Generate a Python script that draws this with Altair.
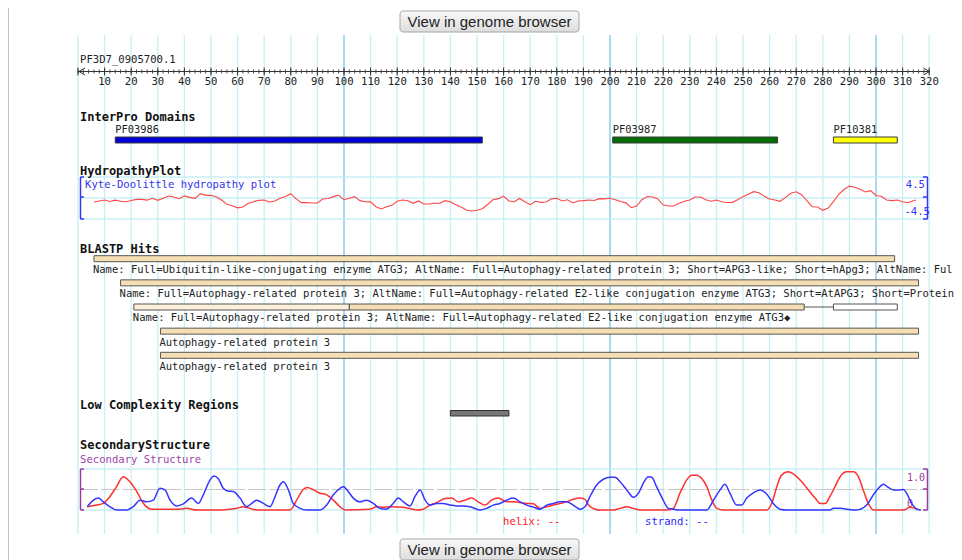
import altair as alt
import pandas as pd

# ---------------- data ----------------
seq_id = "PF3D7_0905700.1"
ruler_minor = list(range(0, 321, 2))
ruler_major = list(range(0, 321, 10))
ruler_labels = list(range(10, 321, 10))
grid_pos = list(range(0, 321, 10))

domain_ids = ["PF03986", "PF03987", "PF10381"]
domain_start = [14, 201, 284]
domain_end = [152, 263, 308]
domain_fill = ["#0000d8", "#006e00", "#ffff00"]

hydro_pos = list(range(6, 315, 2)) + [315]
hydro_val = [
    -0.86, -0.64, -0.43, -0.75, -0.46, -0.71, -0.79, -0.54, -0.29, -0.29,
    -0.46, -0.07, -0.50, -0.07, 0.43, 0.21, -0.14, 0.46, 0.14, -0.07,
    0.93, 0.57, 0.57, 0.21, -0.43, -1.36, -1.68, -2.11, -1.93, -1.14,
    -0.79, -0.50, -0.43, -0.86, -0.64, -0.07, 0.32, 0.93, -0.18, -1.00,
    -1.00, -1.07, -1.07, -0.21, -0.11, 0.29, 0.64, -0.36, -0.04, 0.29,
    -0.57, -0.79, -0.82, -1.86, -2.36, -1.86, -1.57, -0.71, -0.43, -0.57,
    -1.14, -0.64, -1.29, -1.29, -1.14, -1.14, -0.57, -0.79, -1.43, -1.93,
    -2.57, -2.79, -2.61, -2.29, -1.39, -0.39, -0.14, 0.40, -0.64, -0.79,
    -0.11, -0.79, -1.43, -0.71, -0.93, -0.86, -0.18, -0.07, -0.64, -0.39,
    -1.07, -0.64, -0.57, -0.43, -0.54, -0.14, -0.18, -0.07, -0.36, -0.75,
    -1.04, -2.07, -1.71, -0.36, 0.32, 0.21, -0.21, -1.50, -1.71, -1.71,
    -1.14, -0.68, -0.43, 0.21, 0.21, -0.36, -0.68, -0.43, -0.79, -0.96,
    -0.93, -0.36, 0.29, 0.82, 1.36, 1.11, 0.36, -0.21, -0.43, -0.71,
    0.14, 1.00, 1.32, 0.71, -0.54, -1.86, -1.93, -2.64, -2.14, -0.79,
    0.79, 1.82, 2.54, 2.29, 1.86, 1.29, 1.57, 0.54, 0.36, -0.43,
    -0.57, -0.43, -0.79, -1.00, -0.57, -0.43,
]

blast_labels = [
    "Name: Full=Ubiquitin-like-conjugating enzyme ATG3; AltName: Full=Autophagy-related protein 3; Short=APG3-like; Short=hApg3; AltName: Ful",
    "Name: Full=Autophagy-related protein 3; AltName: Full=Autophagy-related E2-like conjugation enzyme ATG3; Short=AtAPG3; Short=Protein",
    "Name: Full=Autophagy-related protein 3; AltName: Full=Autophagy-related E2-like conjugation enzyme ATG3\u25c6",
    "Autophagy-related protein 3",
    "Autophagy-related protein 3",
]
blast_start = [6, 16, 21, 31, 31]
seg_row = [0, 1, 2, 2, 2, 3, 4]
seg_start = [6, 16, 21, 102, 284, 31, 31]
seg_end = [307, 316, 102, 273, 308, 316, 316]
seg_kind = ["hit", "hit", "weak", "hit", "miss", "hit", "hit"]
gap_row = [2]
gap_start = [273]
gap_end = [284]

lc_start = [140]
lc_end = [162]

helix_pos = [3.5, 7.0, 9.5, 12.0, 14.5, 17.0, 19.5, 22.1, 24.6, 27.7, 38.3, 40.8, 44.6, 53.4,
             59.6, 62.2, 67.2, 79.7, 82.2, 84.7, 86.2, 88.5, 91.0, 93.5, 96.0, 98.5, 100.4,
             109.8, 112.3, 114.8, 117.3, 122.3, 127.3, 129.8, 132.3, 134.8, 138.0, 140.5,
             143.0, 145.5, 148.0, 150.5, 153.0, 155.5, 158.0, 161.2, 163.7, 166.2, 168.7,
             171.2, 173.7, 176.2, 178.7, 181.2, 183.7, 186.2, 188.7, 190.6, 191.9, 194.4,
             196.2, 201.3, 203.8, 206.3, 208.8, 211.3, 221.3, 223.8, 226.3, 228.8, 230.7,
             232.6, 234.5, 236.4, 238.3, 240.2, 242.7, 258.9, 260.8, 262.7, 264.5, 267.0,
             269.5, 272.1, 274.6, 277.1, 279.0, 280.9, 282.7, 284.6, 286.5, 289.0, 291.5,
             293.4, 295.2, 297.1, 299.0, 310.3, 312.8, 314.6, 316.8]
helix_val = [0.08, 0.12, 0.16, 0.33, 0.57, 0.81, 0.69, 0.45, 0.16, 0.02, 0.02, 0.04, 0.0, 0.0,
             0.04, 0.08, 0.0, 0.0, 0.24, 0.50, 0.55, 0.49, 0.41, 0.37, 0.24, 0.08, 0.0,
             0.02, 0.08, 0.07, 0.08, 0.07, 0.0, 0.02, 0.12, 0.18, 0.28, 0.29,
             0.20, 0.24, 0.29, 0.20, 0.12, 0.24, 0.29, 0.20, 0.20, 0.18, 0.16,
             0.15, 0.04, 0.08, 0.12, 0.16, 0.20, 0.26, 0.29, 0.26, 0.12, 0.02,
             0.0, 0.0, 0.04, 0.08, 0.04, 0.0, 0.0, 0.04, 0.41, 0.73, 0.85,
             0.85, 0.77, 0.57, 0.24, 0.04, 0.0, 0.0, 0.16, 0.57, 0.85, 0.93,
             0.85, 0.69, 0.49, 0.29, 0.16, 0.16, 0.33, 0.57, 0.81, 0.93, 0.93,
             0.81, 0.49, 0.16, 0.0, 0.0, 0.07, 0.04, 0.0]

strand_pos = [3.5, 5.8, 7.6, 9.5, 12.0, 14.5, 18.3, 20.8, 23.3, 25.8, 28.3, 30.8, 32.7, 34.6,
              37.1, 39.6, 42.7, 45.2, 47.1, 49.6, 51.1, 52.7, 54.6, 56.5, 58.4, 60.9, 63.4,
              65.3, 67.2, 69.7, 72.2, 74.1, 75.9, 77.2, 79.1, 80.9, 83.5, 86.0, 91.0, 93.5,
              96.0, 98.5, 99.8, 101.6, 103.5, 106.0, 108.5, 111.0, 113.5, 116.0, 118.5, 120.4,
              122.3, 124.8, 126.7, 128.6, 130.5, 132.3, 134.8, 137.3, 139.8, 142.3, 144.9,
              147.4, 151.1, 153.6, 156.1, 158.6, 161.2, 163.7, 166.2, 168.7, 171.2, 173.7,
              176.2, 178.7, 181.2, 183.7, 186.2, 188.7, 190.6, 192.5, 195.0, 197.5, 200.0,
              201.9, 203.8, 206.3, 208.8, 210.7, 212.5, 214.4, 215.7, 217.5, 220.0, 221.9,
              223.8, 226.3, 236.4, 238.9, 241.4, 243.2, 245.1, 247.6, 249.5, 251.4, 253.9,
              256.4, 258.9, 261.4, 263.9, 266.4, 282.7, 284.0, 286.5, 289.0, 292.7, 296.5,
              299.0, 301.5, 302.8, 304.6, 306.5, 308.4, 310.3, 311.5, 313.4, 315.3, 316.8]
strand_val = [0.08, 0.24, 0.29, 0.20, 0.08, 0.0, 0.0, 0.08, 0.24, 0.20, 0.24, 0.53, 0.49, 0.24,
              0.10, 0.15, 0.29, 0.16, 0.37, 0.73, 0.83, 0.77, 0.53, 0.46, 0.45, 0.29, 0.08,
              0.16, 0.24, 0.16, 0.08, 0.33, 0.61, 0.69, 0.49, 0.16, 0.04, 0.0, 0.0, 0.12,
              0.37, 0.53, 0.57, 0.45, 0.29, 0.20, 0.24, 0.16, 0.04, 0.02, 0.16, 0.29,
              0.20, 0.10, 0.33, 0.49, 0.24, 0.12, 0.16, 0.16, 0.12, 0.10, 0.10,
              0.08, 0.0, 0.04, 0.12, 0.16, 0.24, 0.29, 0.20, 0.12, 0.07, 0.02,
              0.12, 0.16, 0.20, 0.20, 0.12, 0.02, 0.08, 0.33, 0.61, 0.75, 0.80,
              0.80, 0.69, 0.49, 0.31, 0.41, 0.65, 0.81, 0.80, 0.57, 0.24, 0.04,
              0.02, 0.0, 0.0, 0.24, 0.49, 0.63, 0.41, 0.12, 0.12, 0.29, 0.42,
              0.49, 0.39, 0.16, 0.02, 0.0, 0.0, 0.04, 0.04, 0.02, 0.0, 0.12,
              0.37, 0.57, 0.63, 0.55, 0.49, 0.49, 0.50, 0.41, 0.16, 0.02, 0.0]

# ---------------- layout (page pixels) ----------------
OFF = 8
W, H = 946, 552
MONO = "DejaVu Sans Mono"
XS = alt.Scale(domain=[0, 320], range=[78 - OFF, 929.2 - OFF], nice=False, zero=False)
HS = alt.Scale(domain=[-4.5, 4.5], range=[219 - OFF, 177 - OFF], nice=False, zero=False)
SS = alt.Scale(domain=[0, 1], range=[510 - OFF, 469 - OFF], nice=False, zero=False)
ONE = pd.DataFrame({"k": [0]})


def X(f):
    return alt.X(f, type="quantitative", scale=XS, axis=None)


def seg(x, x2, y, y2, color, w=1.0):
    return alt.Chart(ONE).mark_rule(color=color, strokeWidth=w).encode(
        x=alt.value(x - OFF), x2=alt.value(x2 - OFF),
        y=alt.value(y - OFF), y2=alt.value(y2 - OFF))


def txt(s, x, y, size=10.6, color="#222", weight="normal", align="left", font=MONO):
    return alt.Chart(ONE).mark_text(
        text=s, align=align, baseline="middle", font=font, fontSize=size,
        fontWeight=weight, color=color).encode(x=alt.value(x - OFF), y=alt.value(y - OFF))


layers = []

# page frame (left edge)
layers.append(seg(8.5, 8.5, 0, 560, "#c4c4c4", 1))

# vertical grid
gdf = pd.DataFrame({"pos": grid_pos})
layers.append(alt.Chart(gdf).mark_rule(color="#c9eff5", strokeWidth=1.3).encode(
    x=X("pos"), y=alt.value(35 - OFF), y2=alt.value(534 - OFF)
).transform_filter("datum.pos % 100 != 0 || datum.pos == 0"))
layers.append(alt.Chart(gdf).mark_rule(color="#a9d9ee", strokeWidth=2).encode(
    x=X("pos"), y=alt.value(35 - OFF), y2=alt.value(534 - OFF)
).transform_filter("datum.pos % 100 == 0 && datum.pos > 0"))

# horizontal track lines
layers.append(alt.Chart(pd.DataFrame({"v": [-4.5, 0, 4.5]})).mark_rule(color="#c9eff5", strokeWidth=1.3).encode(
    y=alt.Y("v:Q", scale=HS, axis=None), x=alt.value(80 - OFF), x2=alt.value(928 - OFF)))
layers.append(alt.Chart(pd.DataFrame({"v": [0, 1]})).mark_rule(color="#c9eff5", strokeWidth=1.3).encode(
    y=alt.Y("v:Q", scale=SS, axis=None), x=alt.value(80 - OFF), x2=alt.value(928 - OFF)))
layers.append(alt.Chart(pd.DataFrame({"v": [0.5]})).mark_rule(color="#c8c8c8", strokeWidth=1.2, strokeDash=[18, 3]).encode(
    y=alt.Y("v:Q", scale=SS, axis=None), x=alt.value(80 - OFF), x2=alt.value(928 - OFF)))

# buttons
grad = alt.LinearGradient(gradient="linear", stops=[
    alt.GradientStop(color="#f8f8f8", offset=0), alt.GradientStop(color="#dddddd", offset=1)],
    x1=0, x2=0, y1=0, y2=1)
for top in (11, 539):
    layers.append(alt.Chart(ONE).mark_rect(fill=grad, stroke="#a6a6a6", strokeWidth=1, cornerRadius=3).encode(
        x=alt.value(400 - OFF), x2=alt.value(579 - OFF), y=alt.value(top - OFF), y2=alt.value(top + 21 - OFF)))
    layers.append(txt("View in genome browser", 489.5, top + 11, size=15, color="#222",
                      align="center", font="Liberation Sans"))

# ruler
layers.append(txt(seq_id, 80, 59.5))
layers.append(alt.Chart(pd.DataFrame({"s": [0], "e": [320]})).mark_rule(color="#333", strokeWidth=1).encode(
    x=X("s"), x2="e", y=alt.value(71.5 - OFF)))
layers.append(alt.Chart(pd.DataFrame({"pos": ruler_minor})).mark_rule(color="#444", strokeWidth=1).encode(
    x=X("pos"), y=alt.value(69.5 - OFF), y2=alt.value(73.5 - OFF)))
layers.append(alt.Chart(pd.DataFrame({"pos": ruler_major})).mark_rule(color="#333", strokeWidth=1).encode(
    x=X("pos"), y=alt.value(67.5 - OFF), y2=alt.value(75.5 - OFF)))
layers.append(alt.Chart(pd.DataFrame({"pos": ruler_labels})).mark_text(
    font=MONO, fontSize=10.6, color="#222", baseline="middle", align="center").encode(
    x=X("pos"), y=alt.value(82 - OFF), text="pos:Q"))
layers += [seg(79, 85, 71.5, 68, "#333"), seg(79, 85, 71.5, 75, "#333"),
           seg(929.5, 923.5, 71.5, 68, "#333"), seg(929.5, 923.5, 71.5, 75, "#333")]

# track headers
for name, y in [("InterPro Domains", 117), ("HydropathyPlot", 171), ("BLASTP Hits", 248.5),
                ("Low Complexity Regions", 404.5), ("SecondaryStructure", 445)]:
    layers.append(txt(name, 80, y, size=12, color="#111", weight="bold"))

# InterPro domains
ddf = pd.DataFrame({"id": domain_ids, "start": domain_start, "end": domain_end, "fill": domain_fill})
layers.append(alt.Chart(ddf).mark_rect(stroke="#3a3a3a", strokeWidth=1).encode(
    x=X("start"), x2="end", y=alt.value(137 - OFF), y2=alt.value(143 - OFF),
    fill=alt.Fill("fill:N", scale=None)))
layers.append(alt.Chart(ddf).mark_text(font=MONO, fontSize=10.4, color="#222", align="left", baseline="middle").encode(
    x=X("start"), y=alt.value(130 - OFF), text="id:N"))

# Hydropathy
HB = "#3535f5"
layers.append(txt("Kyte-Doolittle hydropathy plot", 85, 185, color="#3434e8"))
layers += [seg(80.5, 80.5, 177, 219, HB, 1.5), seg(80.5, 84, 177, 177, HB, 1.5),
           seg(80.5, 84, 197, 197, HB, 1.5), seg(80.5, 84, 219, 219, HB, 1.5),
           seg(927.5, 927.5, 177, 219, HB, 1.5), seg(923, 927.5, 177, 177, HB, 1.5),
           seg(923, 927.5, 197, 197, HB, 1.5), seg(923, 927.5, 219, 219, HB, 1.5)]
layers.append(txt("4.5", 925, 185, color=HB, align="right"))
layers.append(txt("-4.5", 930, 211.5, color=HB, align="right"))
hdf = pd.DataFrame({"pos": hydro_pos, "v": hydro_val})
layers.append(alt.Chart(hdf).mark_line(color="#ff4646", strokeWidth=1.1).encode(
    x=X("pos"), y=alt.Y("v:Q", scale=HS, axis=None)))

# BLASTP hits
sdf = pd.DataFrame({"row": seg_row, "start": seg_start, "end": seg_end, "kind": seg_kind})
layers.append(alt.Chart(sdf).mark_rect(stroke="#555", strokeWidth=1).encode(
    x=X("start"), x2="end",
    y=alt.Y("top:Q", scale=None, axis=None), y2="bot:Q",
    fill=alt.Fill("kind:N", scale=alt.Scale(domain=["hit", "weak", "miss"],
                                             range=["#f5deb3", "#fcefdc", "#ffffff"]), legend=None),
).transform_calculate(top=f"255.7 - {OFF} + 24.15 * datum.row", bot=f"261.7 - {OFF} + 24.15 * datum.row"))
gdf2 = pd.DataFrame({"row": gap_row, "start": gap_start, "end": gap_end})
layers.append(alt.Chart(gdf2).mark_rule(color="#555", strokeWidth=1).encode(
    x=X("start"), x2="end", y=alt.Y("yy:Q", scale=None, axis=None),
).transform_calculate(yy=f"258.7 - {OFF} + 24.15 * datum.row"))
ldf = pd.DataFrame({"row": list(range(5)), "start": blast_start, "label": blast_labels})
layers.append(alt.Chart(ldf).mark_text(font=MONO, fontSize=10.5, color="#222", align="left",
                                        baseline="middle", dx=-1).encode(
    x=X("start"), y=alt.Y("yy:Q", scale=None, axis=None), text="label:N",
).transform_calculate(yy=f"269.5 - {OFF} + 24.4 * datum.row"))

# Low complexity
lcdf = pd.DataFrame({"start": lc_start, "end": lc_end})
layers.append(alt.Chart(lcdf).mark_rect(fill="#777777", stroke="#333", strokeWidth=1).encode(
    x=X("start"), x2="end", y=alt.value(410.5 - OFF), y2=alt.value(416 - OFF)))

# Secondary structure
PB = "#9b3b9b"
layers.append(txt("Secondary Structure", 80, 459.5, color="#a040a8"))
layers += [seg(80.5, 80.5, 469, 510, PB, 1.5), seg(80.5, 84, 469, 469, PB, 1.5),
           seg(80.5, 84, 489, 489, PB, 1.5), seg(80.5, 84, 510, 510, PB, 1.5),
           seg(927.5, 927.5, 469, 510, PB, 1.5), seg(923, 927.5, 469, 469, PB, 1.5),
           seg(923, 927.5, 489, 489, PB, 1.5), seg(923, 927.5, 510, 510, PB, 1.5)]
layers.append(txt("1.0", 907, 477.5, size=10, color=PB))
layers.append(txt("0", 907, 503.5, size=10, color=PB))
hxdf = pd.DataFrame({"pos": helix_pos, "v": helix_val})
stdf = pd.DataFrame({"pos": strand_pos, "v": strand_val})
layers.append(alt.Chart(hxdf).mark_line(color="#ff3030", strokeWidth=1.5, interpolate="monotone").encode(
    x=X("pos"), y=alt.Y("v:Q", scale=SS, axis=None)))
layers.append(alt.Chart(stdf).mark_line(color="#3535ff", strokeWidth=1.5, interpolate="monotone").encode(
    x=X("pos"), y=alt.Y("v:Q", scale=SS, axis=None)))
layers.append(txt("helix: --", 503, 521.5, color="#ff2020"))
layers.append(txt("strand: --", 645, 521.5, color="#2a2aff"))

chart = alt.layer(*layers).resolve_scale(y="independent").properties(
    width=W, height=H, autosize=alt.AutoSizeParams(type="none"), padding=0,
    background="white",
).configure_view(strokeWidth=0)

chart.save("out.html", embed_options={"renderer": "svg", "actions": False})
